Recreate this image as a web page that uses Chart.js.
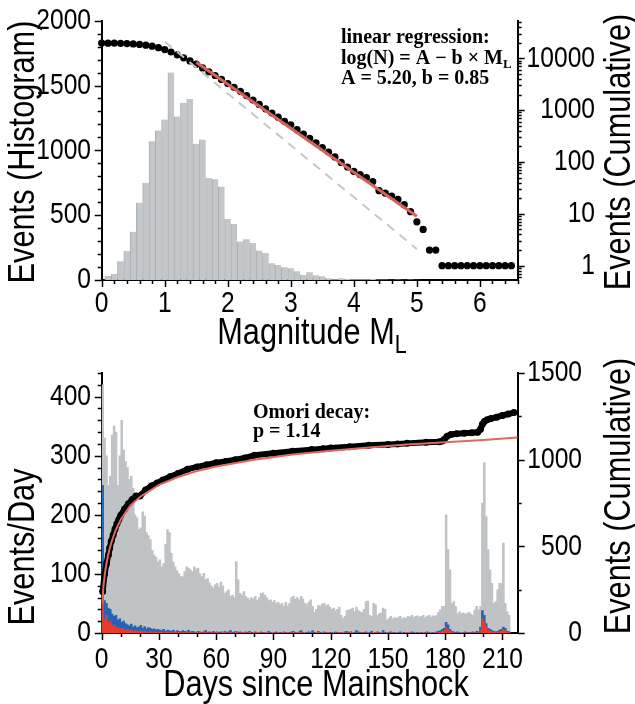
<!DOCTYPE html>
<html>
<head>
<meta charset="utf-8">
<script src="https://cdn.jsdelivr.net/npm/chart.js@4.4.1/dist/chart.umd.min.js"></script>
<style>
  html, body { margin: 0; padding: 0; background: #fff; }
  #wrap { position: relative; width: 635px; height: 704px; overflow: hidden; }
  .panel { position: absolute; left: 0; width: 635px; }
  #topPanel { top: 0; height: 365px; }
  #bottomPanel { top: 345px; height: 359px; }
</style>
</head>
<body>
<div id="wrap">
  <div class="panel" id="topPanel"><canvas id="magChart" width="635" height="365"></canvas></div>
  <div class="panel" id="bottomPanel"><canvas id="dayChart" width="635" height="359"></canvas></div>
</div>
<script>
// ---- top panel: magnitude histogram + cumulative counts ----
const magBins = [0.1,0.2,0.3,0.4,0.5,0.6,0.7,0.8,0.9,1.0,1.1,1.2,1.3,1.4,1.5,1.6,1.7,1.8,1.9,2.0,
  2.1,2.2,2.3,2.4,2.5,2.6,2.7,2.8,2.9,3.0,3.1,3.2,3.3,3.4,3.5,3.6,3.7,3.8,3.9,4.0,
  4.1,4.2,4.3,4.4,4.5,4.6,4.7,4.8,4.9,5.0];
const magCounts = [31,46,144,224,372,596,748,1071,1153,1238,1600,1262,1367,1396,1050,1084,787,777,720,470,
  431,297,315,286,227,209,129,116,98,90,67,39,59,36,28,13,5,13,10,5,
  5,5,10,4,3,2,3,2,3,2];

const cumMag = [0.0,0.1,0.2,0.3,0.4,0.5,0.6,0.7,0.8,0.9,1.0,1.1,1.2,1.3,1.4,1.5,1.6,1.7,1.8,1.9,
  2.0,2.1,2.2,2.3,2.4,2.5,2.6,2.7,2.8,2.9,3.0,3.1,3.2,3.3,3.4,3.5,3.6,3.7,3.8,3.9,
  4.0,4.1,4.2,4.3,4.4,4.5,4.6,4.7,4.8,4.9,5.0,5.1,5.2,5.3,5.4,5.5,5.6,5.7,5.8,5.9,
  6.0,6.1,6.2,6.3,6.4,6.5];
const cumCount = [19600,19550,19500,19400,19200,18900,18500,17900,17100,16000,14700,13200,11600,10200,8900,7700,6500,5500,4650,3900,
  3250,2750,2300,1900,1560,1290,1060,880,730,610,520,420,345,285,235,190,155,125,98,80,
  66,57,50,42,28,25,22,19,15,11,7,5,2,2,1,1,1,1,1,1,
  1,1,1,1,1,1];

const fitMag = [1.5, 5.0];
const fitCount = [8400, 9];
const refMag = [1.0, 5.0];
const refCount = [20900, 2.1];

const magTicks = [0,1,2,3,4,5,6];
const histTicks = [0,500,1000,1500,2000];
const cumLogTicks = [1,10,100,1000,10000];

// ---- bottom panel: daily rates + cumulative ----
const dayGray = [420,330,300,250,265,335,350,340,250,300,
  360,310,290,280,260,265,245,200,195,175,
  178,205,198,170,165,158,140,132,128,120,
  124,112,118,150,175,170,135,120,112,105,
  100,96,95,104,112,110,107,104,112,108,
  110,100,96,101,90,92,85,80,76,82,
  84,78,86,80,67,70,73,62,64,60,
  121,90,67,64,70,62,59,56,60,58,
  62,55,60,67,68,64,60,55,56,52,
  55,50,52,48,50,45,52,46,50,60,
  62,58,60,56,62,58,50,48,52,56,
  45,35,40,47,45,49,50,46,48,44,
  40,42,38,40,44,30,25,28,38,39,
  40,42,36,44,38,36,35,40,53,54,
  30,28,50,48,30,33,34,42,40,22,
  25,28,24,26,25,27,28,24,26,25,
  28,27,30,26,28,29,27,28,30,26,
  28,30,27,29,28,30,35,39,45,45,
  200,141,107,50,53,45,33,36,33,34,
  32,33,35,32,30,39,45,39,45,220,
  288,197,141,107,84,50,53,73,84,84,
  152,50,36,30];
const dayBlue = [250,55,50,42,40,32,28,30,22,24,
  18,20,16,14,12,15,10,12,9,10,
  13,8,11,7,9,8,6,7,5,6,
  5,4,6,3,5,4,3,5,2,4,
  3,2,4,3,2,5,2,3,2,1,
  3,2,1,2,4,1,2,1,3,1,
  2,1,2,0,3,1,2,4,1,2,
  3,1,2,1,0,2,1,3,1,0,
  2,1,0,2,1,1,0,3,1,0,
  1,2,0,1,0,2,1,0,1,2,
  3,1,0,2,4,1,0,1,2,1,
  4,1,0,3,1,0,2,1,0,1,
  1,0,2,1,0,1,0,2,3,1,
  2,0,1,4,2,1,0,1,2,0,
  1,3,0,1,2,1,0,4,1,0,
  1,2,0,1,0,1,2,0,1,0,
  1,0,2,1,0,1,0,1,0,1,
  2,1,0,1,0,2,3,4,6,8,
  18,14,6,3,2,1,2,1,0,1,
  2,1,0,1,2,1,3,2,10,38,
  30,16,8,6,4,3,2,3,5,6,
  10,8,3,2];
const dayRed = [90,22,30,18,20,12,14,10,9,7,
  8,6,5,6,4,5,3,4,3,2,
  4,2,3,2,1,2,1,2,1,1,
  2,1,0,1,2,1,0,1,0,1,
  1,0,1,0,2,0,1,0,0,1,
  0,1,0,0,1,0,0,1,0,0,
  1,0,0,0,1,0,0,1,0,0,
  3,0,0,1,0,0,0,1,0,0,
  0,1,0,0,0,1,0,0,0,0,
  1,0,0,0,0,1,0,0,0,0,
  1,0,0,0,1,0,0,0,0,0,
  0,0,0,1,0,0,0,0,1,0,
  0,0,0,0,1,0,0,0,0,0,
  1,0,0,0,0,0,1,0,0,0,
  0,0,0,1,0,0,0,0,0,0,
  0,0,1,0,0,0,0,0,0,0,
  1,0,0,0,0,0,0,0,0,1,
  0,0,0,0,0,0,1,2,3,4,
  10,6,3,1,0,0,0,0,0,0,
  0,0,1,0,0,0,1,0,4,24,
  18,10,5,3,2,1,0,1,2,3,
  6,4,1,0];

const cumDay = [0.5,1.5,2.5,3.5,4.2,5,6,7,8,9,10,12,14,16,18,20,23,26,29,32,36,40,45,50,55,60,65,70,75,80,
  90,100,110,116,120,130,140,150,155,160,170,177,178.5,179.5,181,183,186,190,194,197,198.5,199.5,200.5,202,204,207,210,213,216];
const cumEvents = [240,340,400,450,490,530,565,600,630,655,680,715,745,770,790,790,825,848,865,882,903,920,945,958,970,982,990,1000,1010,1025,
  1037,1048,1058,1063,1067,1075,1083,1088,1090,1094,1100,1104,1108,1116,1135,1145,1150,1153,1156,1158,1175,1205,1220,1230,1238,1245,1255,1263,1272];

const omoriDay = [0.3,1,2,3,4,5,7,10,15,20,30,40,50,60,80,100,120,140,160,180,200,218];
const omoriEvents = [170,280,370,430,480,520,585,655,735,785,855,900,935,960,1000,1030,1052,1070,1087,1100,1114,1128];

const dayTicks = [0,30,60,90,120,150,180,210];
const rateTicks = [0,100,200,300,400];
const cumTicks = [0,500,1000,1500];

// ---- shared helpers ----
const SANS = "'Liberation Sans', Arial, Helvetica, sans-serif";
const SERIF = "'Liberation Serif', 'Times New Roman', serif";
Chart.defaults.font.family = SANS;
Chart.defaults.color = '#000';

const fixWidth = w => s => { s.width = w; };
const fixHeight = h => s => { s.height = h; };

function linearMarks(min, max, minor, major) {
  const out = [];
  for (let v = min; v <= max + 1e-9; v += minor) {
    const r = Math.round(v * 1000) / 1000;
    out.push([r, Math.abs(r / major - Math.round(r / major)) < 1e-6 ? 7 : 4]);
  }
  return out;
}
function logMarks(min, max) {
  const out = [];
  for (let e = -1; e <= 5; e++) {
    for (let k = 1; k <= 9; k++) {
      const v = k * Math.pow(10, e);
      if (v >= min && v <= max) out.push([v, k === 1 ? 7 : 4]);
    }
  }
  return out;
}

// text in narrow Helvetica style: squeeze horizontally
function drawParts(ctx, parts, align, sx) {
  let total = 0;
  parts.forEach(p => { ctx.font = p.font; total += ctx.measureText(p.t).width; });
  ctx.scale(sx, 1);
  let cx = align === 'center' ? -total / 2 : (align === 'right' ? -total : 0);
  ctx.textAlign = 'left';
  parts.forEach(p => {
    ctx.font = p.font;
    ctx.fillText(p.t, cx, p.dy || 0);
    cx += ctx.measureText(p.t).width;
  });
}

// draws tick marks, tick labels, titles and annotations
const decor = {
  id: 'decor',
  afterDraw(chart, args, opts) {
    const ctx = chart.ctx;
    ctx.save();
    ctx.strokeStyle = '#000';
    ctx.fillStyle = '#000';
    ctx.lineWidth = 1.5;
    (opts.marks || []).forEach(m => {
      const s = chart.scales[m.axis];
      m.list.forEach(([v, len]) => {
        const p = Math.round(s.getPixelForValue(v)) + 0.5;
        ctx.beginPath();
        if (s.position === 'bottom') { ctx.moveTo(p, s.top); ctx.lineTo(p, s.top + len); }
        else if (s.position === 'left') { ctx.moveTo(s.right, p); ctx.lineTo(s.right - len, p); }
        else { ctx.moveTo(s.left, p); ctx.lineTo(s.left + len, p); }
        ctx.stroke();
      });
    });
    (opts.labels || []).forEach(l => {
      const s = chart.scales[l.axis];
      l.values.forEach(v => {
        const p = s.getPixelForValue(v);
        ctx.save();
        if (s.position === 'bottom') {
          ctx.translate(p, l.at);
          ctx.textBaseline = 'alphabetic';
          drawParts(ctx, [{ t: String(v), font: l.font }], 'center', l.sx);
        } else {
          ctx.translate(l.at, p);
          ctx.textBaseline = 'middle';
          drawParts(ctx, [{ t: String(v), font: l.font }], 'right', l.sx);
        }
        ctx.restore();
      });
    });
    (opts.texts || []).forEach(t => {
      ctx.save();
      ctx.translate(t.x, t.y);
      if (t.rot) ctx.rotate(t.rot);
      ctx.textBaseline = t.baseline || 'alphabetic';
      drawParts(ctx, t.parts, t.align || 'left', t.sx || 1);
      ctx.restore();
    });
    ctx.restore();
  }
};

const axisBorder = { display: true, color: '#000', width: 2 };
const tickFont = '30px ' + SANS;
const tickSx = 0.82;
const titleFont = '37px ' + SANS;
const subFont = '26px ' + SANS;
const titleSx = 0.83;
const noteFont = 'bold 20px ' + SERIF;
const noteSub = 'bold 13px ' + SERIF;
const UP = -Math.PI / 2;

// ---- top chart ----
new Chart(document.getElementById('magChart'), {
  type: 'bar',
  data: {
    datasets: [
      {
        type: 'line',
        data: fitMag.map((m, i) => ({ x: m, y: fitCount[i] })),
        yAxisID: 'yCum',
        borderColor: '#d6615b',
        borderWidth: 3,
        pointRadius: 0,
        order: 1
      },
      {
        type: 'line',
        data: refMag.map((m, i) => ({ x: m, y: refCount[i] })),
        yAxisID: 'yCum',
        borderColor: '#c4c7ca',
        borderWidth: 2,
        borderDash: [9, 7],
        pointRadius: 0,
        order: 2
      },
      {
        type: 'line',
        data: cumMag.map((m, i) => ({ x: m, y: cumCount[i] })),
        yAxisID: 'yCum',
        showLine: false,
        pointRadius: 3.6,
        pointBackgroundColor: '#000',
        pointBorderWidth: 0,
        clip: false,
        order: 3
      },
      {
        type: 'bar',
        data: magBins.map((m, i) => ({ x: m, y: magCounts[i] })),
        yAxisID: 'yHist',
        backgroundColor: '#c3c7ca',
        borderColor: '#a9aeb2',
        borderWidth: { left: 1, right: 0, top: 0, bottom: 0 },
        borderSkipped: false,
        barPercentage: 1,
        categoryPercentage: 1,
        order: 4
      }
    ]
  },
  options: {
    responsive: false,
    animation: false,
    devicePixelRatio: 1,
    layout: { padding: { top: 20.7, left: 0, right: 0, bottom: 0 } },
    plugins: {
      legend: { display: false },
      tooltip: { enabled: false },
      decor: {
        marks: [
          { axis: 'x', list: linearMarks(0, 6.6, 0.2, 1) },
          { axis: 'yHist', list: linearMarks(0, 2000, 100, 500) },
          { axis: 'yCum', list: logMarks(0.53, 53000) }
        ],
        labels: [
          { axis: 'x', values: magTicks, at: 312, font: tickFont, sx: tickSx },
          { axis: 'yHist', values: histTicks, at: 91, font: tickFont, sx: tickSx },
          { axis: 'yCum', values: cumLogTicks, at: 595, font: tickFont, sx: tickSx }
        ],
        texts: [
          { x: 24, y: 152, rot: UP, baseline: 'middle', align: 'center', sx: titleSx, parts: [{ t: 'Events (Histogram)', font: titleFont }] },
          { x: 620, y: 152, rot: UP, baseline: 'middle', align: 'center', sx: titleSx, parts: [{ t: 'Events (Cumulative)', font: titleFont }] },
          { x: 312, y: 344, align: 'center', sx: titleSx, parts: [{ t: 'Magnitude M', font: titleFont }, { t: 'L', font: subFont, dy: 9 }] },
          { x: 341, y: 43, parts: [{ t: 'linear regression:', font: noteFont }] },
          { x: 341, y: 64, parts: [{ t: 'log(N) = A \u2212 b \u00d7 M', font: noteFont }, { t: 'L', font: noteSub, dy: 4 }] },
          { x: 341, y: 84, parts: [{ t: 'A = 5.20, b = 0.85', font: noteFont }] }
        ]
      }
    },
    scales: {
      x: {
        type: 'linear', position: 'bottom', min: 0, max: 6.6, offset: false,
        grid: { display: false, offset: false }, border: axisBorder,
        ticks: { display: false }, afterFit: fixHeight(85)
      },
      yHist: {
        type: 'linear', position: 'left', min: 0, max: 2000,
        grid: { display: false }, border: axisBorder,
        ticks: { display: false }, afterFit: fixWidth(101.7)
      },
      yCum: {
        type: 'logarithmic', position: 'right', min: 0.53, max: 53000,
        grid: { display: false }, border: axisBorder,
        ticks: { display: false }, afterFit: fixWidth(117.3)
      }
    }
  },
  plugins: [decor]
});

// ---- bottom chart ----
const dayX = i => i + 0.5;
new Chart(document.getElementById('dayChart'), {
  type: 'bar',
  data: {
    datasets: [
      {
        type: 'line',
        data: omoriDay.map((d, i) => ({ x: d, y: omoriEvents[i] })),
        yAxisID: 'yCum',
        borderColor: '#dc6a63',
        borderWidth: 2,
        pointRadius: 0,
        order: 1
      },
      {
        type: 'line',
        data: cumDay.map((d, i) => ({ x: d, y: cumEvents[i] })),
        yAxisID: 'yCum',
        borderColor: '#000',
        borderWidth: 6,
        borderJoinStyle: 'round',
        borderCapStyle: 'round',
        pointRadius: 3.5,
        pointBackgroundColor: '#000',
        pointBorderWidth: 0,
        clip: false,
        order: 2
      },
      {
        type: 'bar',
        data: dayRed.map((v, i) => ({ x: dayX(i), y: v })),
        yAxisID: 'yRate',
        backgroundColor: '#e93b2c',
        barPercentage: 1, categoryPercentage: 1, grouped: false,
        order: 3
      },
      {
        type: 'bar',
        data: dayBlue.map((v, i) => ({ x: dayX(i), y: v })),
        yAxisID: 'yRate',
        backgroundColor: '#2463b6',
        barPercentage: 1, categoryPercentage: 1, grouped: false,
        order: 4
      },
      {
        type: 'bar',
        data: dayGray.map((v, i) => ({ x: dayX(i), y: v })),
        yAxisID: 'yRate',
        backgroundColor: '#bfc3c6',
        barPercentage: 1, categoryPercentage: 1, grouped: false,
        order: 5
      }
    ]
  },
  options: {
    responsive: false,
    animation: false,
    devicePixelRatio: 1,
    layout: { padding: { top: 28, left: 0, right: 0, bottom: 0 } },
    plugins: {
      legend: { display: false },
      tooltip: { enabled: false },
      decor: {
        marks: [
          { axis: 'x', list: linearMarks(0, 218, 10, 30) },
          { axis: 'yRate', list: linearMarks(0, 440, 20, 100) },
          { axis: 'yCum', list: linearMarks(0, 1500, 250, 500) }
        ],
        labels: [
          { axis: 'x', values: dayTicks, at: 323, font: tickFont, sx: tickSx },
          { axis: 'yRate', values: rateTicks, at: 91, font: tickFont, sx: tickSx },
          { axis: 'yCum', values: cumTicks, at: 582, font: tickFont, sx: tickSx }
        ],
        texts: [
          { x: 24, y: 202, rot: UP, baseline: 'middle', align: 'center', sx: titleSx, parts: [{ t: 'Events/Day', font: titleFont }] },
          { x: 620, y: 151, rot: UP, baseline: 'middle', align: 'center', sx: titleSx, parts: [{ t: 'Events (Cumulative)', font: titleFont }] },
          { x: 316, y: 351, align: 'center', sx: titleSx, parts: [{ t: 'Days since Mainshock', font: titleFont }] },
          { x: 253, y: 73, parts: [{ t: 'Omori decay:', font: noteFont }] },
          { x: 253, y: 92, parts: [{ t: 'p = 1.14', font: noteFont }] }
        ]
      }
    },
    scales: {
      x: {
        type: 'linear', position: 'bottom', min: 0, max: 218, offset: false,
        grid: { display: false, offset: false }, border: axisBorder,
        ticks: { display: false }, afterFit: fixHeight(71)
      },
      yRate: {
        type: 'linear', position: 'left', min: 0, max: 440,
        grid: { display: false }, border: axisBorder,
        ticks: { display: false }, afterFit: fixWidth(101.7)
      },
      yCum: {
        type: 'linear', position: 'right', min: 0, max: 1500,
        grid: { display: false }, border: axisBorder,
        ticks: { display: false }, afterFit: fixWidth(117.3)
      }
    }
  },
  plugins: [decor]
});
</script>
</body>
</html>
